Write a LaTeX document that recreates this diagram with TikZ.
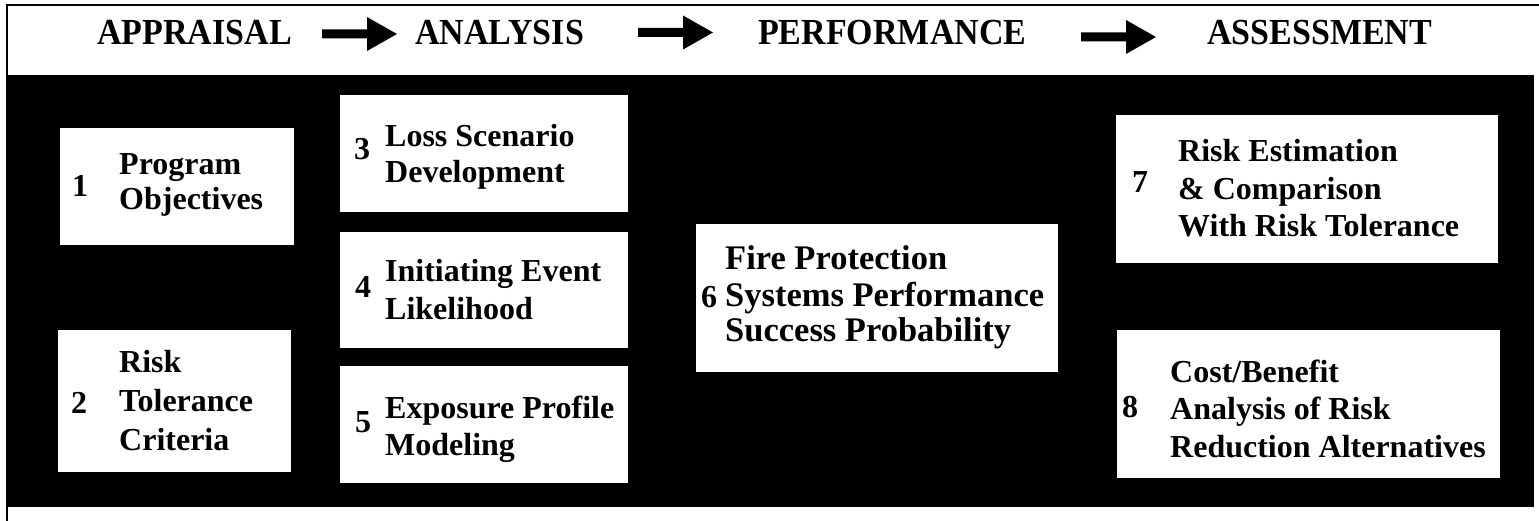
\documentclass[tikz,border=0pt]{standalone}
\usepackage{fontspec}
\setmainfont{Liberation Serif}
\begin{document}
\begin{tikzpicture}[
  x=1pt, y=-1pt,
  box/.style={fill=white, draw=none, inner sep=0pt, rectangle},
  head/.style={anchor=base west, inner sep=0pt, font=\fontsize{34}{40}\selectfont\bfseries},
  num/.style={anchor=base west, inner sep=0pt, font=\fontsize{32}{36}\selectfont\bfseries},
  txt/.style={anchor=base west, inner sep=0pt, font=\fontsize{32}{#1}\selectfont\bfseries},
  bigtxt/.style={anchor=base west, inner sep=0pt, font=\fontsize{34.5}{#1}\selectfont\bfseries},
  blockarrow/.pic={\fill (0,-4.5) -- (45,-4.5) -- (45,-17) -- (75,0) -- (45,17) -- (45,4.5) -- (0,4.5) -- cycle;}
]
\useasboundingbox (0,0) rectangle (1539,521);
\fill[white] (0,0) rectangle (1539,521);

% frame lines and the dark field
\draw[line width=1.2pt] (7,521) -- (7,5) -- (1539,5);
\fill[black] (8,75) rectangle (1534,507);

% phase headings
\node[head] (h1) at (97,45)   {\scalebox{1}[1.08]{APPRAISAL}};
\node[head] (h2) at (415,45)  {\scalebox{1}[1.08]{ANALYSIS}};
\node[head] (h3) at (758,45)  {\scalebox{1}[1.08]{PERFORMANCE}};
\node[head] (h4) at (1207,45) {\scalebox{1}[1.08]{ASSESSMENT}};
\pic at (322,34)   {blockarrow};
\pic at (638,32.5) {blockarrow};
\pic at (1081,37)  {blockarrow};

% step boxes
\node[box, minimum width=234pt, minimum height=117pt] (b1) at (177,186.5) {};
\node[box, minimum width=233pt, minimum height=142pt] (b2) at (174.5,401) {};
\node[box, minimum width=288pt, minimum height=117pt] (b3) at (484,153.5) {};
\node[box, minimum width=288pt, minimum height=116pt] (b4) at (484,290) {};
\node[box, minimum width=288pt, minimum height=117pt] (b5) at (484,424.5) {};
\node[box, minimum width=362pt, minimum height=148pt] (b6) at (877,298) {};
\node[box, minimum width=382pt, minimum height=148pt] (b7) at (1307,189) {};
\node[box, minimum width=383pt, minimum height=148pt] (b8) at (1308.5,404) {};

% step numbers
\node[num] (n1) at (72,197)   {1};
\node[num] (n2) at (71,413)   {2};
\node[num] (n3) at (354,160)  {3};
\node[num] (n4) at (355,298)  {4};
\node[num] (n5) at (355,432)  {5};
\node[num] (n6) at (701,307)  {6};
\node[num] (n7) at (1132,193) {7};
\node[num] (n8) at (1122,417) {8};

% step titles
\node[txt=35] (t1) at (119,175) {\begin{tabular}[t]{@{}l@{}}Program\\Objectives\end{tabular}};
\node[txt=39] (t2) at (119,372) {\begin{tabular}[t]{@{}l@{}}Risk\\Tolerance\\Criteria\end{tabular}};
\node[txt=36] (t3) at (385,147) {\begin{tabular}[t]{@{}l@{}}Loss Scenario\\Development\end{tabular}};
\node[txt=38] (t4) at (385,282) {\begin{tabular}[t]{@{}l@{}}Initiating Event\\Likelihood\end{tabular}};
\node[txt=37] (t5) at (385,418) {\begin{tabular}[t]{@{}l@{}}Exposure Profile\\Modeling\end{tabular}};
\node[bigtxt=36] (t6) at (725,270) {\begin{tabular}[t]{@{}l@{}}Fire Protection\\Systems Performance\\Success Probability\end{tabular}};
\node[txt=37.5] (t7) at (1178,162) {\begin{tabular}[t]{@{}l@{}}Risk Estimation\\\& Comparison\\With Risk Tolerance\end{tabular}};
\node[txt=37.5] (t8) at (1170,382) {\begin{tabular}[t]{@{}l@{}}Cost/Benefit\\Analysis of Risk\\Reduction Alternatives\end{tabular}};
\end{tikzpicture}
\end{document}
